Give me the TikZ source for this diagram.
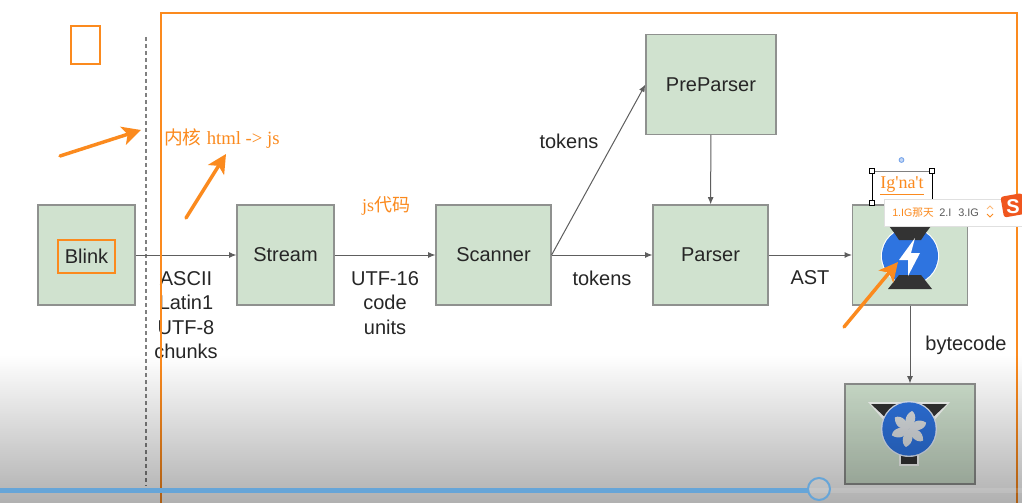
\documentclass[tikz,border=0pt]{standalone}
\usepackage{fontspec}
\setmainfont{Liberation Sans}
\newfontfamily\serifan{Liberation Serif}
\newfontfamily\cjk{Noto Sans CJK SC}
\usetikzlibrary{arrows.meta,fadings}
\definecolor{boxgreen}{HTML}{D0E2CF}
\definecolor{boxline}{HTML}{8F918F}
\definecolor{anno}{HTML}{FB8A1E}
\definecolor{flow}{HTML}{5E5E5E}
\definecolor{ink}{HTML}{262626}
\definecolor{gblue}{HTML}{2E74E0}
\definecolor{dark}{HTML}{333333}
\definecolor{barblue}{HTML}{66A5D8}
\definecolor{blade}{HTML}{DDE1E4}
\definecolor{logored}{HTML}{F0561E}
\tikzfading[name=bottomfade,top color=transparent!100,bottom color=transparent!69]
\tikzset{
  stage/.style={draw=boxline,line width=.9pt,fill=boxgreen,minimum height=75pt,inner sep=0pt,font=\fontsize{15}{18}\selectfont,text=ink},
  flowline/.style={draw=flow,line width=.75pt,-{Latex[length=5.5pt,width=4.5pt]}},
  lab/.style={font=\fontsize{15}{18.4}\selectfont,text=ink,align=center,inner sep=0pt},
  annobox/.style={draw=anno,line width=1.3pt,fill=none},
  annoarrow/.style={draw=anno,line width=2.6pt,line cap=round,-{Stealth[length=14pt,width=14pt,inset=3.5pt]}},
  handle/.style={draw=black,fill=white,line width=.5pt,minimum size=4pt,inner sep=0pt},
}
\begin{document}
\begin{tikzpicture}[x=.75pt,y=-.75pt]
\useasboundingbox (0,0) rectangle (1022,503);
\fill[white] (0,0) rectangle (1022,503);
% stages
\node[stage,minimum width=72.75pt] (blink) at (86.5,255) {};
\node[stage,minimum width=72.75pt] (stream) at (285.5,255) {Stream};
\node[stage,minimum width=86.25pt] (scanner) at (493.5,255) {Scanner};
\node[stage,minimum width=97.5pt,minimum height=74.5pt] (pre) at (711,84.5) {PreParser};
\node[stage,minimum width=86.25pt] (parser) at (710.5,255) {Parser};
\node[stage,minimum width=86.25pt] (ign) at (910,255) {};
\node[stage,minimum width=97.5pt] (fan) at (910,434) {};
% dashed divider
\coordinate (dashtop) at (146,37);
\coordinate (dashbot) at (146,486);
\draw[draw=gray,line width=1.1pt,dash pattern=on 3pt off 2.25pt] (dashtop) -- (dashbot);
% connectors
\draw[flowline] (blink) -- (stream);
\draw[flowline] (stream) -- (scanner);
\draw[flowline] (scanner) -- (parser);
\draw[flowline] (scanner.east) -- (pre.west);
\draw[flowline] (pre) -- (parser);
\draw[flowline] (parser) -- (ign);
\draw[flowline] (ign) -- (fan);
% labels
\node[lab] (l1) at (186,315) {ASCII\\Latin1\\UTF-8\\chunks};
\node[lab] (l2) at (385,303) {UTF-16\\code\\units};
\node[lab] (l3) at (569,141) {tokens};
\node[lab] (l4) at (602,278) {tokens};
\node[lab] (l5) at (810,278) {AST};
\node[lab] (l6) at (966,345) {bytecode};
% Ignition icon
\fill[white] (910,256) circle (21.8pt);
\fill[gblue] (910,256) circle (21pt);
\fill[dark] (889,226) -- (931,226) -- (925,234) -- (921,240) -- (899,240) -- (895,234) -- cycle;
\fill[dark] (899,275) -- (921,275) -- (932,289) -- (888,289) -- cycle;
\fill[white] (915,238) -- (899,260) -- (908,260) -- (908,276) -- (920,253) -- (911,253) -- cycle;
% TurboFan icon
\fill[white!85!boxgreen] (868,402) -- (950,402) -- (932,423) -- (886,423) -- cycle;
\fill[white!85!boxgreen] (899,448) rectangle (919,466);
\fill[dark] (871,404) -- (947,404) -- (930,420) -- (888,420) -- cycle;
\fill[dark] (901,450) rectangle (917,464);
\fill[white!85!gblue] (909,429) circle (21pt);
\fill[gblue] (909,429) circle (20pt);
\foreach \a in {0,60,...,300}{
  \fill[blade,rotate around={\a:(909,429)}] (909,429) .. controls (904,424) and (904,415) .. (912,411) .. controls (918,415) and (915,425) .. (909,429) -- cycle;
}
% annotations
\draw[annobox] (71,26) rectangle (100,64);
\draw[annobox,line width=1.4pt] (161,13) rectangle (1017,510);
\node[annobox,minimum width=42.75pt,minimum height=24.75pt,inner sep=0pt,font=\fontsize{15}{18}\selectfont,text=ink] (blinkin) at (86.5,256.5) {Blink};
\coordinate (a1s) at (60,156); \coordinate (a1e) at (141,130);
\coordinate (a2s) at (186,218); \coordinate (a2e) at (226,154);
\coordinate (a3s) at (844,327); \coordinate (a3e) at (898,262);
\draw[annoarrow] (a1s) -- (a1e);
\draw[annoarrow] (a2s) -- (a2e);
\draw[annoarrow] (a3s) -- (a3e);
\node[text=anno,inner sep=0pt,anchor=west,font=\fontsize{14}{16}\selectfont] (t1) at (164,139) {{\cjk 内核} {\serifan html -> js}};
\node[text=anno,inner sep=0pt,font=\fontsize{13.5}{16}\selectfont] (t2) at (386,206) {{\serifan js}{\cjk 代码}};
% selected text box
\coordinate (sa) at (872,171); \coordinate (sb) at (932,203);
\draw[draw=gray,line width=.6pt] (sa) -- (sa -| sb);
\draw[draw=black,line width=.5pt] (sa) -- (sa |- sb);
\draw[draw=black,line width=.5pt] (sb) -- (sb |- sa);
\node[handle] (h1) at (872,171) {};
\node[handle] (h2) at (932,171) {};
\node[handle] (h3) at (872,203) {};
\node[text=anno,inner sep=0pt,font=\serifan\fontsize{13.5}{16}\selectfont] (t3) at (902,186) {\underline{Ig'na't}};
\draw[draw=gblue!70,line width=.6pt,fill=white!70!gblue] (901.5,160) circle (1.8pt);
% suggestion popup
\fill[white] (884,199) rectangle (1022,226);
\draw[draw=black!12,line width=.4pt] (1022,226) -- (884,226) -- (884,199) -- (1022,199);
\node[text=anno,inner sep=0pt,anchor=west,font=\fontsize{8}{10}\selectfont] (p1) at (892,213) {1.IG{\cjk 那天}};
\node[text=black!65,inner sep=0pt,anchor=west,font=\fontsize{8.2}{10}\selectfont] (p2) at (939,213) {2.I};
\node[text=black!65,inner sep=0pt,anchor=west,font=\fontsize{8.2}{10}\selectfont] (p3) at (958,213) {3.IG};
\draw[anno!60,line width=.6pt] (987,209) -- (990,206) -- (993,209);
\draw[anno,line width=.7pt] (987,214) -- (990,217) -- (993,214);
\fill[logored,rounded corners=2pt,rotate around={10:(1012,205)}] (1002,195) rectangle (1024,216);
\node[text=white,inner sep=0pt,font=\bfseries\fontsize{15}{15}\selectfont] (p4) at (1013,207) {S};
% bottom shadow
\fill[black,path fading=bottomfade] (0,355) rectangle (1022,503);
% progress bar
\fill[white,opacity=.12] (808,488) rectangle (1022,493);
\fill[barblue] (0,488) rectangle (808,493);
\draw[draw=barblue,line width=1.5pt,fill=white,fill opacity=.1] (819,489) circle (8.25pt);
\end{tikzpicture}
\end{document}
